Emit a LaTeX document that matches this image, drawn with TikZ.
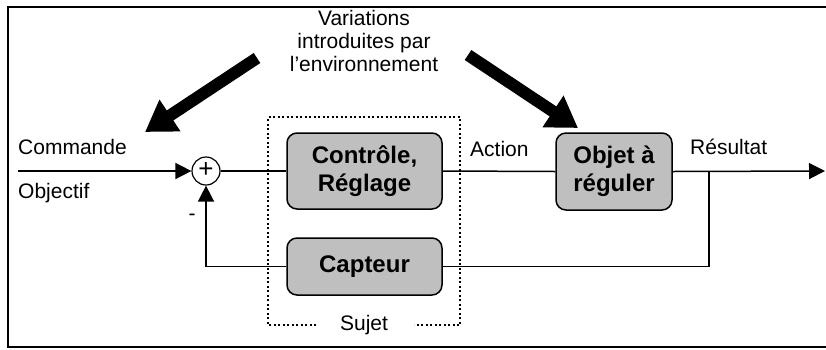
\documentclass[tikz,border=0pt]{standalone}
\usepackage{fontspec}
\setmainfont{Liberation Sans}
\usetikzlibrary{arrows.meta}
\begin{document}
\begin{tikzpicture}[x=1pt,y=-1pt]

		\tikzset{
		  bloc/.style={
			draw,
			line width=1.5pt,
			rounded corners=10pt,
			fill={gray!50},
			align=center,
			inner sep=0pt,
			font=\fontsize{24}{28}\selectfont\bfseries,
		  },
		  sommateur/.style={
			draw,
			circle,
			line width=1.2pt,
			minimum size=28pt,
			inner sep=0pt,
			font=\fontsize{26}{26}\selectfont,
		  },
		  lien/.style={line width=1.5pt},
		  fleche/.style={line width=1.5pt,-{Triangle[length=16pt,width=16pt]}},
		  grosse/.style={line width=12pt,-{Triangle[length=30pt,width=36pt]}},
		  etiquette/.style={font=\fontsize{21}{23}\selectfont,inner sep=0pt},
		}
		\useasboundingbox (0,0) rectangle (826,349);
		\draw[color={black},line width=1.5pt] (830,7)--(8,7)--(8,347)--(830,347);
		% blocs
		\node[sommateur] (somme) at (206,171) {\raisebox{1.5pt}{+}};
		\node[bloc,minimum width=155pt,minimum height=76pt] (controle) at (364.5,171) {Contrôle,\\Réglage};
		\node[bloc,minimum width=155pt,minimum height=57pt] (capteur) at (364.5,266.5) {Capteur};
		\node[bloc,minimum width=116pt,minimum height=77pt] (objet) at (614,171.5) {Objet à\\réguler};
		% cadre du sujet
		\node[etiquette] (sujet) at (364,325) {Sujet};
		\draw[color={black},line width=2pt,dash pattern=on 2pt off 2.5pt] (316,325)--(268,325)--(268,117)--(460,117)--(460,325)--(414,325);
		% liaisons
		\coordinate (entree) at (18,171);
		\coordinate (sortie) at (825,171);
		\coordinate (branche) at (709,171);
		\draw[fleche] (entree)--(somme.west);
		\draw[lien] (somme.east)--(controle.west);
		\draw[lien] (controle.east)--(objet.west);
		\draw[fleche] (objet.east)--(sortie);
		\draw[lien] (branche) |- (capteur.east);
		\draw[fleche] (capteur.west) -| (somme.south);
		% textes
		\node[etiquette,anchor=west] (commande) at (18,147) {Commande};
		\node[etiquette,anchor=west] (objectif) at (18,193) {Objectif};
		\node[etiquette] (moins) at (192,217) {-};
		\node[etiquette,anchor=west] (action) at (470,149) {Action};
		\node[etiquette,anchor=west] (resultat) at (690,147) {Résultat};
		\node[etiquette,align=center] (variations) at (364,41) {Variations\\introduites par\\l’environnement};
		% perturbations
		\coordinate (gauche) at (257,58);
		\coordinate (droite) at (468,55);
		\draw[grosse] (gauche)--(145,132);
		\draw[grosse] (droite)--(578,128);

	\end{tikzpicture}
\end{document}
